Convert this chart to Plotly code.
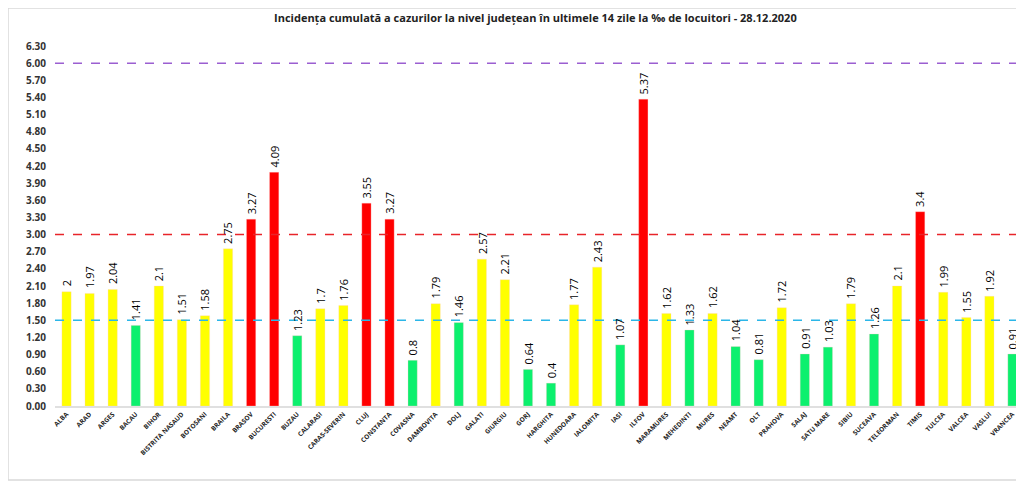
import plotly.graph_objects as go

# date incidenta pe judete - 28.12.2020
judete = ["ALBA", "ARAD", "ARGES", "BACAU", "BIHOR", "BISTRITA NASAUD", "BOTOSANI", "BRAILA",
          "BRASOV", "BUCURESTI", "BUZAU", "CALARASI", "CARAS-SEVERIN", "CLUJ", "CONSTANTA",
          "COVASNA", "DAMBOVITA", "DOLJ", "GALATI", "GIURGIU", "GORJ", "HARGHITA", "HUNEDOARA",
          "IALOMITA", "IASI", "ILFOV", "MARAMURES", "MEHEDINTI", "MURES", "NEAMT", "OLT",
          "PRAHOVA", "SALAJ", "SATU MARE", "SIBIU", "SUCEAVA", "TELEORMAN", "TIMIS", "TULCEA",
          "VALCEA", "VASLUI", "VRANCEA"]
incidenta = [2, 1.97, 2.04, 1.41, 2.1, 1.51, 1.58, 2.75,
             3.27, 4.09, 1.23, 1.7, 1.76, 3.55, 3.27,
             0.8, 1.79, 1.46, 2.57, 2.21, 0.64, 0.4, 1.77,
             2.43, 1.07, 5.37, 1.62, 1.33, 1.62, 1.04, 0.81,
             1.72, 0.91, 1.03, 1.79, 1.26, 2.1, 3.4, 1.99,
             1.55, 1.92, 0.91]
praguri = [1.5, 3.0, 6.0]
culori_praguri = ["#2bb6e8", "#e8242a", "#9b5fd1"]
y_ticks = [i * 0.3 for i in range(22)]


def culoare(v):
    if v < 1.5:
        return "#0cf06e"
    if v <= 3:
        return "#ffff00"
    return "#ff0000"


fig = go.Figure()
fig.add_trace(go.Bar(
    x=judete,
    y=incidenta,
    marker_color=[culoare(v) for v in incidenta],
    marker_line=dict(color="rgba(255,200,200,0.6)", width=0.5),
    hoverinfo="x+y",
))

# etichete valori, rotite vertical
for j, v in zip(judete, incidenta):
    fig.add_annotation(x=j, y=v, text=str(v), textangle=-90, showarrow=False,
                       yanchor="bottom", yshift=3,
                       font=dict(family="Open Sans", size=11, color="#000000"))

# linii de prag
for p, c in zip(praguri, culori_praguri):
    fig.add_shape(type="line", xref="paper", yref="y", x0=0, x1=1, y0=p, y1=p,
                  line=dict(color=c, width=1.5, dash="dash"))

# chenar gri in jurul graficului
fig.add_shape(type="rect", xref="paper", yref="paper",
              x0=-0.0485, x1=1.005, y0=-0.2056, y1=1.1056,
              line=dict(color="#d9d9d9", width=1.5), fillcolor="rgba(0,0,0,0)")

fig.update_layout(
    width=1024, height=484,
    margin=dict(l=47, r=8, t=38, b=86),
    paper_bgcolor="white", plot_bgcolor="white",
    title=dict(text="<b>Incidența cumulată a cazurilor la nivel județean în ultimele 14 zile la ‰ de locuitori - 28.12.2020</b>",
               x=0.515, xanchor="center", y=0.979, yanchor="middle",
               font=dict(family="Open Sans", size=11, color="#222222")),
    showlegend=False,
    bargap=0.6,
    font=dict(family="Open Sans"),
)
fig.update_xaxes(
    tickangle=-45,
    tickvals=judete,
    ticktext=[f"<b>{j}</b>" for j in judete],
    tickfont=dict(size=6.5, color="#222222", family="Open Sans"),
    showline=True, linecolor="#e0e0e0", linewidth=2,
    showgrid=False, ticks="",
)
fig.update_yaxes(
    range=[0, 6.3],
    tickvals=y_ticks,
    ticktext=[f"<b>{v:.2f}</b>" for v in y_ticks],
    tickfont=dict(size=10, color="#333333", family="Open Sans"),
    showgrid=False, zeroline=False, showline=False,
    ticklabelstandoff=8,
)

fig.write_html("out.html")
